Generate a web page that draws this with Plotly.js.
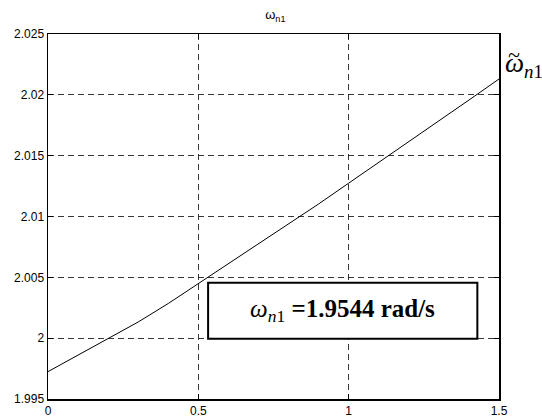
<!DOCTYPE html>
<html>
<head>
<meta charset="utf-8">
<script src="https://cdn.plot.ly/plotly-3.0.1.min.js"></script>
<style>html,body{margin:0;padding:0;background:#fff;}#chart{width:542px;height:417px;}</style>
</head>
<body>
<div id="chart"></div>
<script>
const xValues = [0, 0.1, 0.2, 0.3, 0.4, 0.5, 0.6, 0.7, 0.8, 0.9, 1.0, 1.1, 1.2, 1.3, 1.4, 1.5];
const omegaValues = [1.99725, 1.99860, 1.99992, 2.00133, 2.00285, 2.00448, 2.00610, 2.00773, 2.00937, 2.01103, 2.01274, 2.01443, 2.01612, 2.01783, 2.01957, 2.02130];
const xTicks = [0, 0.5, 1, 1.5];
const xTickLabels = ['0', '0.5', '1', '1.5'];
const yTicks = [1.995, 2, 2.005, 2.01, 2.015, 2.02, 2.025];
const yTickLabels = ['1.995', '2', '2.005', '2.01', '2.015', '2.02', '2.025'];

const trace = {
  x: xValues, y: omegaValues, type: 'scatter', mode: 'lines',
  line: {color: '#000', width: 1}, hoverinfo: 'skip', showlegend: false
};

const axisCommon = {
  showline: true, mirror: 'ticks', linecolor: '#000', linewidth: 1.5,
  showgrid: true, gridcolor: '#222', griddash: '6px,4px', gridwidth: 0.9,
  ticks: 'inside', ticklen: 5, tickcolor: '#000', zeroline: false,
  tickfont: {family: 'Arial, Liberation Sans, sans-serif', size: 12, color: '#000'},
  fixedrange: true
};

const layout = {
  width: 542, height: 417,
  margin: {l: 48, r: 43, t: 34, b: 18},
  paper_bgcolor: '#fff', plot_bgcolor: '#fff',
  title: {text: 'ω<sub>n1</sub>', font: {family: 'Arial, Liberation Sans, sans-serif', size: 13, color: '#000'},
          x: 0.508, xanchor: 'center', y: 0.965, yanchor: 'middle'},
  xaxis: Object.assign({}, axisCommon, {range: [0, 1.5], tickvals: xTicks, ticktext: xTickLabels}),
  yaxis: Object.assign({}, axisCommon, {range: [1.995, 2.025], tickvals: yTicks, ticktext: yTickLabels}),
  shapes: [{
    type: 'rect', xref: 'paper', yref: 'paper', x0: 0.355, x1: 0.952, y0: 0.1653, y1: 0.3186,
    line: {color: '#000', width: 2}, fillcolor: '#fff', layer: 'above'
  }],
  annotations: [
    {xref: 'paper', yref: 'paper', x: 0.653, y: 0.243, xanchor: 'center', yanchor: 'middle', showarrow: false,
     text: '<i>ω</i><sub><i>n</i>1</sub> <b>=1.9544 rad/s</b>',
     font: {family: 'Liberation Serif, Times New Roman, serif', size: 25, color: '#000'}},
    {xref: 'paper', yref: 'paper', x: 1.008, y: 0.914, xanchor: 'left', yanchor: 'middle', showarrow: false,
     text: '<i>ω</i><sub><i>n</i>1</sub>',
     font: {family: 'Liberation Serif, Times New Roman, serif', size: 27, color: '#000'}},
    {xref: 'paper', yref: 'paper', x: 1.033, y: 0.944, xanchor: 'center', yanchor: 'middle', showarrow: false,
     text: '~',
     font: {family: 'Liberation Serif, Times New Roman, serif', size: 22, color: '#000'}}
  ]
};

Plotly.newPlot('chart', [trace], layout, {displayModeBar: false, staticPlot: true});
</script>
</body>
</html>
